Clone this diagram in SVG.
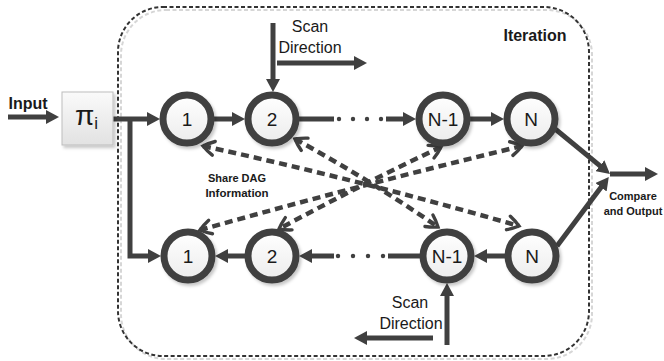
<svg xmlns="http://www.w3.org/2000/svg" width="664" height="361" viewBox="0 0 664 361">
<defs>
  <linearGradient id="gNode" x1="0" y1="0" x2="0" y2="1">
    <stop offset="0" stop-color="#ffffff"/>
    <stop offset="1" stop-color="#ececec"/>
  </linearGradient>
  <linearGradient id="gBox" x1="0" y1="0" x2="0" y2="1">
    <stop offset="0" stop-color="#fafafa"/>
    <stop offset="1" stop-color="#e2e2e2"/>
  </linearGradient>
  <filter id="shadow" x="-30%" y="-30%" width="160%" height="160%">
    <feDropShadow dx="2" dy="2.5" stdDeviation="1.5" flood-color="#000" flood-opacity="0.22"/>
  </filter>
  <marker id="ah" markerUnits="userSpaceOnUse" markerWidth="14" markerHeight="14" refX="1" refY="7" orient="auto">
    <path d="M0,0 L13,7 L0,14 z" fill="#404040"/>
  </marker>
  <marker id="chev" markerUnits="userSpaceOnUse" markerWidth="16" markerHeight="18" refX="12" refY="9" orient="auto-start-reverse" overflow="visible">
    <path d="M1,2 Q7,5 12,9 Q7,13 1,16" fill="none" stroke="#404040" stroke-width="3.4" stroke-dasharray="none" stroke-linecap="round"/>
  </marker>
  <style>
    .ln { fill: none; stroke: #404040; stroke-width: 5; }
    .dash { fill: none; stroke: #404040; stroke-width: 4.5; stroke-dasharray: 8 5; }
    .dot { fill: #404040; }
    .node circle { fill: url(#gNode); stroke: #404040; stroke-width: 7; }
    .num { font-family: "Liberation Sans", Arial, sans-serif; font-size: 19px; fill: #1a1a1a; text-anchor: middle; }
    .lbl { font-family: "Liberation Sans", Arial, sans-serif; font-size: 16px; fill: #1a1a1a; text-anchor: middle; }
    .bold { font-family: "Liberation Sans", Arial, sans-serif; font-weight: bold; fill: #1a1a1a; text-anchor: middle; }
  </style>
</defs>

<!-- Iteration container -->
<g id="iteration-box">
  <rect x="121" y="10" width="471" height="349" rx="45" fill="none" stroke="#d6d6d6" stroke-width="2" stroke-dasharray="4 2.5"/>
  <rect x="118" y="7" width="471" height="349" rx="45" fill="none" stroke="#333" stroke-width="2" stroke-dasharray="4 2.5"/>
  <text class="bold" x="535" y="41" font-size="16">Iteration</text>
</g>

<!-- Connectors -->
<g id="connectors">
  <path class="ln" d="M8,117 H47" marker-end="url(#ah)"/>
  <path class="ln" d="M113,119 H148" marker-end="url(#ah)"/>
  <path class="ln" d="M130,117 V256 H149" marker-end="url(#ah)"/>
  <path class="ln" d="M214,119 H233" marker-end="url(#ah)"/>
  <path class="ln" d="M299,119 H334"/>
  <circle class="dot" cx="339" cy="119" r="2.2"/>
  <circle class="dot" cx="353" cy="119" r="2.2"/>
  <circle class="dot" cx="367" cy="119" r="2.2"/>
  <circle class="dot" cx="381" cy="119" r="2.2"/>
  <path class="ln" d="M386,119 H404" marker-end="url(#ah)"/>
  <path class="ln" d="M470,119 H492" marker-end="url(#ah)"/>
  <path class="ln" d="M505,256 H486" marker-end="url(#ah)"/>
  <path class="ln" d="M420,256 H388"/>
  <circle class="dot" cx="383" cy="256" r="2.2"/>
  <circle class="dot" cx="368" cy="256" r="2.2"/>
  <circle class="dot" cx="353" cy="256" r="2.2"/>
  <circle class="dot" cx="338" cy="256" r="2.2"/>
  <path class="ln" d="M334,256 H311" marker-end="url(#ah)"/>
  <path class="ln" d="M245,256 H227" marker-end="url(#ah)"/>
  <path class="ln" d="M273,23 V80" marker-end="url(#ah)"/>
  <path class="ln" d="M277,63 H355" marker-end="url(#ah)"/>
  <path class="ln" d="M447,345 V295" marker-end="url(#ah)"/>
  <path class="ln" d="M433,338 H366" marker-end="url(#ah)"/>
  <path class="ln" d="M554,128 L600.7,166.4" marker-end="url(#ah)"/>
  <path class="ln" d="M557,246 L601.6,186.5" marker-end="url(#ah)"/>
  <path class="ln" d="M610,174 H646" marker-end="url(#ah)"/>
  <path class="dash" d="M203,146 Q360,180 519,226" marker-start="url(#chev)" marker-end="url(#chev)"/>
  <path class="dash" d="M295,139 Q370,180 438,227" marker-start="url(#chev)" marker-end="url(#chev)"/>
  <path class="dash" d="M441,147 Q360,185 279,229" marker-start="url(#chev)" marker-end="url(#chev)"/>
  <path class="dash" d="M522,146 Q360,185 200,230" marker-start="url(#chev)" marker-end="url(#chev)"/>
</g>

<!-- Nodes -->
<g id="node-pi">
  <rect x="62" y="92" width="51" height="53" fill="url(#gBox)" stroke="#bdbdbd" stroke-width="1" filter="url(#shadow)"/>
  <text x="75" y="125" font-family="Liberation Sans, Arial, sans-serif" font-size="28" fill="#1a1a1a">π<tspan font-size="17" dy="4">i</tspan></text>
</g>
<g id="node-top-1" class="node"><circle cx="187" cy="119" r="24" filter="url(#shadow)"/><text class="num" x="187" y="126">1</text></g>
<g id="node-top-2" class="node"><circle cx="272" cy="119" r="24" filter="url(#shadow)"/><text class="num" x="272" y="126">2</text></g>
<g id="node-top-n1" class="node"><circle cx="443" cy="119" r="24" filter="url(#shadow)"/><text class="num" x="443" y="126">N-1</text></g>
<g id="node-top-n" class="node"><circle cx="531" cy="119" r="24" filter="url(#shadow)"/><text class="num" x="531" y="126">N</text></g>
<g id="node-bot-1" class="node"><circle cx="188" cy="256" r="24" filter="url(#shadow)"/><text class="num" x="188" y="263">1</text></g>
<g id="node-bot-2" class="node"><circle cx="272" cy="256" r="24" filter="url(#shadow)"/><text class="num" x="272" y="263">2</text></g>
<g id="node-bot-n1" class="node"><circle cx="447" cy="256" r="24" filter="url(#shadow)"/><text class="num" x="447" y="263">N-1</text></g>
<g id="node-bot-n" class="node"><circle cx="532" cy="256" r="24" filter="url(#shadow)"/><text class="num" x="532" y="263">N</text></g>

<!-- Labels -->
<g id="labels">
  <text class="bold" x="28" y="109" font-size="16">Input</text>
  <text class="lbl" x="310" y="32">Scan</text>
  <text class="lbl" x="310" y="53">Direction</text>
  <text class="lbl" x="410" y="308">Scan</text>
  <text class="lbl" x="411" y="329">Direction</text>
  <text class="bold" x="237" y="182" font-size="11">Share DAG</text>
  <text class="bold" x="237" y="197" font-size="11.5">Information</text>
  <text class="bold" x="633" y="200" font-size="11">Compare</text>
  <text class="bold" x="633" y="215" font-size="11">and Output</text>
</g>
</svg>
